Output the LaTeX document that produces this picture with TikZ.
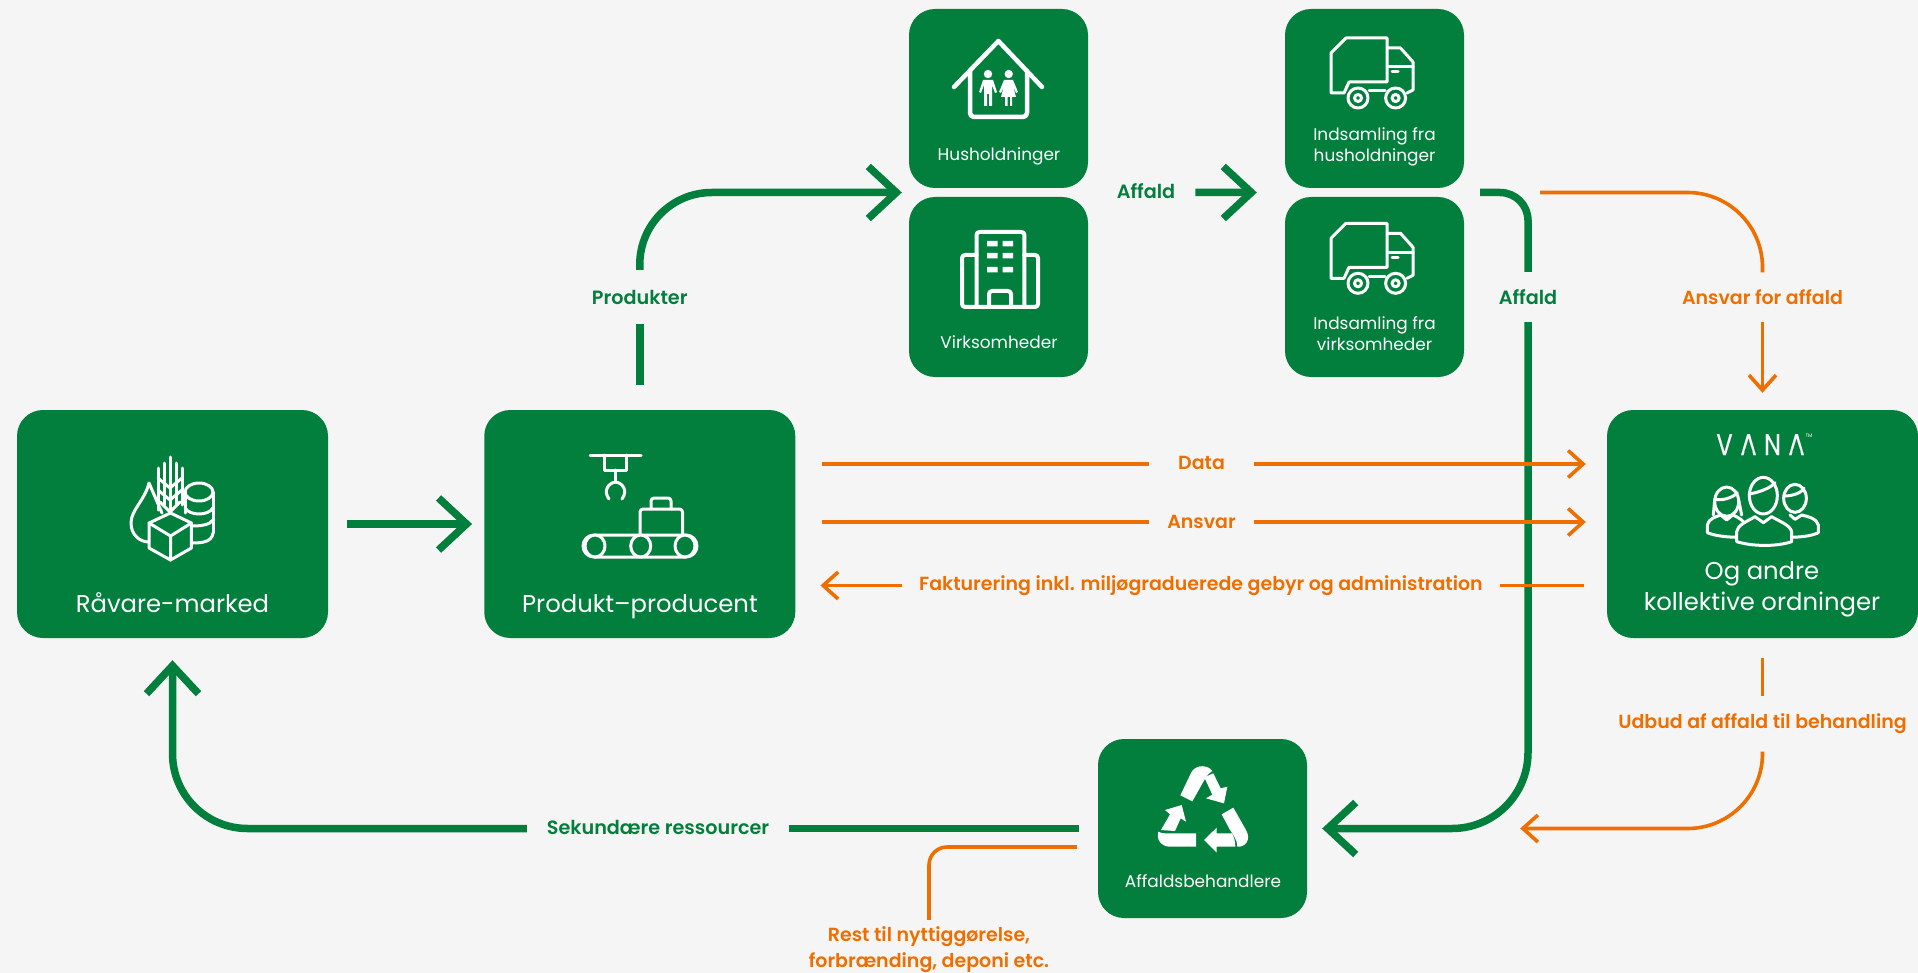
\documentclass[tikz,border=0pt]{standalone}
\usepackage{fontspec}
\usetikzlibrary{arrows.meta,calc}
\setmainfont{Poppins}[BoldFont=Poppins SemiBold]
\newfontfamily\logofont{Poppins}[FakeBold=0.35]
\definecolor{vgreen}{HTML}{027F3C}
\definecolor{vorange}{HTML}{EE6F00}
\definecolor{vbg}{HTML}{F5F5F5}
\tikzset{
  gbox/.style={fill=vgreen,rounded corners=26pt,inner sep=0pt},
  gline/.style={draw=vgreen,line width=7.5pt},
  oline/.style={draw=vorange,line width=3.6pt},
  ghead/.style={-{Straight Barb[length=28pt,width=52pt]}},
  ohead/.style={-{Straight Barb[length=15pt,width=27pt]}},
  lblg/.style={text=vgreen,font=\bfseries\fontsize{19.2}{23}\selectfont,inner sep=0pt,align=center},
  lblo/.style={text=vorange,font=\bfseries\fontsize{19}{26}\selectfont,inner sep=0pt,align=center},
  big/.style={text=white,font=\fontsize{24.3}{30.6}\selectfont,align=center,inner sep=0pt},
  small/.style={text=white,font=\fontsize{16.9}{21}\selectfont,align=center,inner sep=0pt},
  icon/.style={draw=white,line width=3pt,line join=round,line cap=round},
  iconf/.style={icon,fill=vgreen},
}
\newcommand{\truckicon}{%
  \draw[icon] (1331,53)--(1346,38)--(1387,38)--(1387,82)--(1349,82)--(1344,93)--(1331,93)--cycle;
  \draw[icon] (1388,48)--(1400.5,48)--(1413,62)--(1413,90)--(1407,93);
  \draw[icon] (1388,67)--(1413,67);
  \draw[icon] (1392,72)--(1398,72);
  \draw[icon] (1369,91)--(1385,91);
  \draw[iconf] (1358,98) circle (10);
  \draw[iconf] (1395.6,98) circle (10);
  \draw[icon] (1358,98) circle (3.5);
  \draw[icon] (1395.6,98) circle (3.5);
}
\begin{document}
\begin{tikzpicture}[x=1pt,y=-1pt]
\useasboundingbox (0,0) rectangle (1918,973);
\fill[vbg] (0,0) rectangle (1918,973);
% boxes
\node[gbox,minimum width=311pt,minimum height=228pt] (raavare) at (172.5,524) {};
\node[gbox,minimum width=311pt,minimum height=228pt] (produkt) at (639.75,524) {};
\node[gbox,minimum width=179pt,minimum height=179pt] (hush) at (998.5,98.5) {};
\node[gbox,minimum width=179pt,minimum height=180pt] (virk) at (998.5,287) {};
\node[gbox,minimum width=179pt,minimum height=179pt] (indh) at (1374.5,98.5) {};
\node[gbox,minimum width=179pt,minimum height=180pt] (indv) at (1374.5,287) {};
\node[gbox,minimum width=311pt,minimum height=228pt] (vana) at (1762.5,524) {};
\node[gbox,minimum width=209pt,minimum height=179pt] (affb) at (1202.5,828.5) {};
\coordinate (hvw) at ($(hush.south west)!.5!(virk.north west)$);
\coordinate (ihw) at ($(indh.south west)!.5!(indv.north west)$);
\coordinate (ihe) at ($(indh.south east)!.5!(indv.north east)$);
% box texts
\node[big,anchor=base] (traavare) at (172.5,612) {Råvare-marked};
\node[big,anchor=base] (tprodukt) at (640,612) {Produkt–producent};
\node[small,anchor=base] (thush) at (999,160.5) {Husholdninger};
\node[small,anchor=base] (tvirk) at (999,348.5) {Virksomheder};
\node[small] (tindh) at (1374.5,147) {Indsamling fra\\husholdninger};
\node[small] (tindv) at (1374.5,334) {Indsamling fra\\virksomheder};
\node[small] (taffb) at (1203,881) {Affaldsbehandlere};
\node[big] (tvana) at (1762,589.5) {Og andre\\kollektive ordninger};
% labels
\node[lblg,minimum height=54pt] (lprod) at (639.75,297) {Produkter};
\node[lblg] (laffa) at (1146,192.5) {\raisebox{2pt}{Affald}};
\node[lblg,minimum height=50pt] (laffb) at (1528,297) {Affald};
\node[lblo,minimum height=49pt] (lansaff) at (1762.5,297) {Ansvar for affald};
\node[lblo,minimum width=105pt] (ldata) at (1201.5,464) {\raisebox{3pt}{Data}};
\node[lblo,minimum width=105pt] (lansvar) at (1201.5,522) {\raisebox{-2pt}{Ansvar}};
\node[lblo,minimum width=598pt] (lfakt) at (1201,585.5) {\raisebox{-2pt}{Fakturering inkl. miljøgraduerede gebyr og administration}};
\node[lblo,minimum height=55pt] (ludbud) at (1762.5,724) {\raisebox{-2pt}{Udbud af affald til behandling}};
\node[lblg,minimum width=262pt] (lsek) at (658,828.5) {\raisebox{2pt}{Sekundære ressourcer}};
\node[lblo,inner ysep=7pt] (lrest) at (929,950) {Rest til nyttiggørelse,\\forbrænding, deponi etc.};
% connectors
\draw[gline,ghead,shorten <=19pt,shorten >=12pt] (raavare.east) -- (produkt.west);
\draw[gline,shorten <=25pt] (produkt.north) -- (lprod.south);
\draw[gline,ghead,rounded corners=72pt,shorten >=7pt] (lprod.north) |- (hvw);
\draw[gline,ghead,shorten <=20pt,shorten >=28pt] (laffa.east) -- (ihw);
\draw[gline,rounded corners=28pt,shorten <=16pt] (ihe) -| (laffb.north);
\draw[gline,ghead,rounded corners=76pt,shorten >=15pt] (laffb.south) |- (affb.east);
\draw[oline,rounded corners=75pt,shorten <=76pt] (ihe) -| (lansaff.north);
\draw[oline,ohead,shorten >=17pt] (lansaff.south) -- (vana.north);
\draw[oline,shorten <=27pt] (produkt.east |- ldata.west) -- (ldata.west);
\draw[oline,ohead,shorten >=21pt] (ldata.east) -- (vana.west |- ldata.east);
\draw[oline,shorten <=27pt] (produkt.east |- lansvar.west) -- (lansvar.west);
\draw[oline,ohead,shorten >=21pt] (lansvar.east) -- (vana.west |- lansvar.east);
\draw[oline,shorten <=23pt] (vana.west |- lfakt.east) -- (lfakt.east);
\draw[oline,ohead,shorten >=25pt] (lfakt.west) -- (produkt.east |- lfakt.west);
\draw[oline,shorten <=20pt] (vana.south) -- (ludbud.north);
\draw[oline,ohead,rounded corners=75pt,shorten >=213pt] (ludbud.south) |- (affb.east);
\draw[gline,shorten <=19pt] (affb.west) -- (lsek.east);
\draw[gline,ghead,rounded corners=75pt,shorten >=22pt] (lsek.west) -| (raavare.south);
\draw[oline,rounded corners=18pt,shorten <=21pt] ($(affb.west)+(0,18.5)$) -| (lrest.north);
% raw material icon
\draw[icon] (170,457)--(170,513) (164,463)--(164,505) (176,463)--(176,505) (158,468)--(158,510) (182,468)--(182,505);
\draw[icon] (158,478)--(170,488)--(182,478) (158,490)--(170,500)--(182,490) (160,502)--(170,512)--(180,502);
\draw[icon] (162,513) -- (149,483) .. controls (145,500) and (131,510) .. (131,523) .. controls (131,535) and (140,542) .. (149,542);
\draw[iconf] (199,492) ellipse (14 and 9);
\draw[icon] (185,492)--(185,513) (213,492)--(213,533);
\draw[icon] (185,508) .. controls (190,516) and (208,516) .. (213,508);
\draw[icon] (192,526) .. controls (200,526) and (210,525) .. (213,520);
\draw[icon] (192,543) .. controls (202,543) and (212,542) .. (213,533);
\draw[iconf] (170.5,513)--(191.4,523)--(191.4,548)--(170.5,560)--(149,548)--(149,523)--cycle;
\draw[icon] (149,523)--(170.5,536)--(191.4,523) (170.5,536)--(170.5,560);
% conveyor icon
\draw[icon] (590,455)--(641,455);
\draw[icon] (604,455)--(604,470)--(626.5,470)--(626.5,455);
\draw[icon] (615.6,470)--(615.6,482);
\draw[icon] (609,499) .. controls (603,491) and (608,483) .. (615.6,482) .. controls (623,483) and (628,491) .. (622,499);
\draw[icon,rounded corners=3pt] (651,509)--(651,498)--(671,498)--(671,509);
\draw[icon,rounded corners=3pt] (640,535)--(640,509)--(682.5,509)--(682.5,535);
\draw[icon,rounded corners=11pt] (583,535) rectangle (697,557);
\draw[iconf] (595,546) ellipse (10 and 11);
\draw[iconf] (640.7,546) ellipse (10 and 11);
\draw[iconf] (685,546) ellipse (10 and 11);
% house icon
\draw[icon,line width=4.5pt] (954,87)--(998.4,41)--(1042,87);
\draw[icon,line width=4.5pt,rounded corners=4pt] (970,71)--(970,117)--(1027,117)--(1027,71);
\fill[white] (988,74) circle (4.2) (1008.7,74) circle (4.2);
\fill[white] (983,80)--(993,80)--(997,92)--(995,93)--(992,85)--(992,106)--(989,106)--(989,94)--(987,94)--(987,106)--(984,106)--(984,85)--(981,93)--(979,92)--cycle;
\fill[white] (1004,80)--(1013,80)--(1018,92)--(1016,93)--(1013,86)--(1016,97)--(1012,97)--(1012,106)--(1010,106)--(1010,97)--(1007.5,97)--(1007.5,106)--(1005,106)--(1005,97)--(1001,97)--(1004,86)--(1001,93)--(999,92)--cycle;
% building icon
\draw[icon,line width=4pt,rounded corners=3pt] (976.5,307)--(976.5,232)--(1024.4,232)--(1024.4,307);
\draw[icon,line width=4pt,rounded corners=3pt] (976.5,255)--(962,255)--(962,307)--(1038,307)--(1038,255)--(1024.4,255);
\draw[icon,line width=4pt,rounded corners=3pt] (989,307)--(989,291)--(1011,291)--(1011,307);
\fill[white] (987,241) rectangle (997.6,246.5) (1002.6,241) rectangle (1013,246.5)
  (987,253) rectangle (997.6,258.5) (1002.6,253) rectangle (1013,258.5)
  (987,267) rectangle (997.6,272.5) (1002.6,267) rectangle (1013,272.5);
% truck icons
\truckicon
\begin{scope}[shift={(0,185.3)}]\truckicon\end{scope}
% recycling icon
\begin{scope}[shift={(880,720)},scale=1/3]
\fill[white] (901,226) -- (937,244) -- (973,180) .. controls (980,165) and (990,158) .. (997,153) .. controls (985,135) and (950,132) .. (935,155) -- cycle;
\fill[white] (973,172) -- (1000,160) -- (1022,205) -- (1042,200) -- (1032,250) -- (978,235) -- (997,224) -- cycle;
\fill[white] (1025,283) -- (1060,263) -- (1098,330) .. controls (1115,360) and (1095,382) .. (1072,380) .. controls (1072,360) and (1060,345) .. (1050,330) -- cycle;
\fill[white] (1056,340) -- (1010,340) -- (1010,323) -- (972,360) -- (1010,398) -- (1010,380) -- (1066,380) .. controls (1066,365) and (1062,350) .. (1056,340) -- cycle;
\fill[white] (835,335) .. controls (842,340) and (850,340) .. (860,340) -- (948,340) -- (948,380) -- (870,380) .. controls (845,380) and (828,360) .. (835,335) -- cycle;
\fill[white] (843,330) -- (870,283) -- (855,270) -- (905,255) -- (918,305) -- (902,295) -- (885,333) -- cycle;
\end{scope}
% people icon
\begin{scope}[shift={(1600,400)},scale=1/3]
\draw[icon] (420,412) .. controls (385,412) and (345,408) .. (322,398) -- (322,375) .. controls (325,355) and (350,350) .. (362,345) -- (380,360) -- (398,345) .. controls (410,350) and (420,355) .. (430,365);
\draw[iconf] (380,305) ellipse (36 and 44);
\draw[icon] (346,298) .. controls (365,303) and (400,293) .. (412,278);
\draw[icon] (344,300) -- (340,345) (416,300) -- (425,345);
\draw[icon] (565,412) .. controls (600,412) and (635,408) .. (655,398) -- (655,375) .. controls (650,355) and (625,350) .. (605,345) -- (585,358) -- (570,345);
\draw[iconf] (585,295) ellipse (34 and 42);
\draw[icon] (552,288) .. controls (570,288) and (600,283) .. (612,265);
\draw[iconf] (410,425) .. controls (460,440) and (530,440) .. (575,425) -- (575,395) .. controls (570,375) and (540,365) .. (515,350) -- (490,368) -- (465,350) .. controls (440,365) and (412,375) .. (410,395) -- cycle;
\draw[iconf] (490,287) ellipse (42 and 55);
\draw[icon] (447,282) .. controls (480,277) and (515,262) .. (525,248);
\end{scope}
% logo: the letters are real text, their crossbars are masked to match the wordmark
\node[text=white,font=\logofont\fontsize{30}{30}\selectfont,inner sep=0pt,anchor=base] (logo) at (1760.5,455) {\scalebox{.8}[1]{\makebox[30pt]{V}\makebox[30pt]{A}\makebox[30pt]{N}\makebox[30pt]{A}}};
\fill[vgreen] (1746.6,445.5)--(1750.4,445.5)--(1752.7,451.5)--(1744.3,451.5)--cycle;
\fill[vgreen] (1794.6,445.5)--(1798.4,445.5)--(1800.7,451.5)--(1792.3,451.5)--cycle;
\node[text=white,font=\fontsize{5}{5}\selectfont,inner sep=0pt] (tm) at (1809,435.5) {TM};
\end{tikzpicture}
\end{document}
